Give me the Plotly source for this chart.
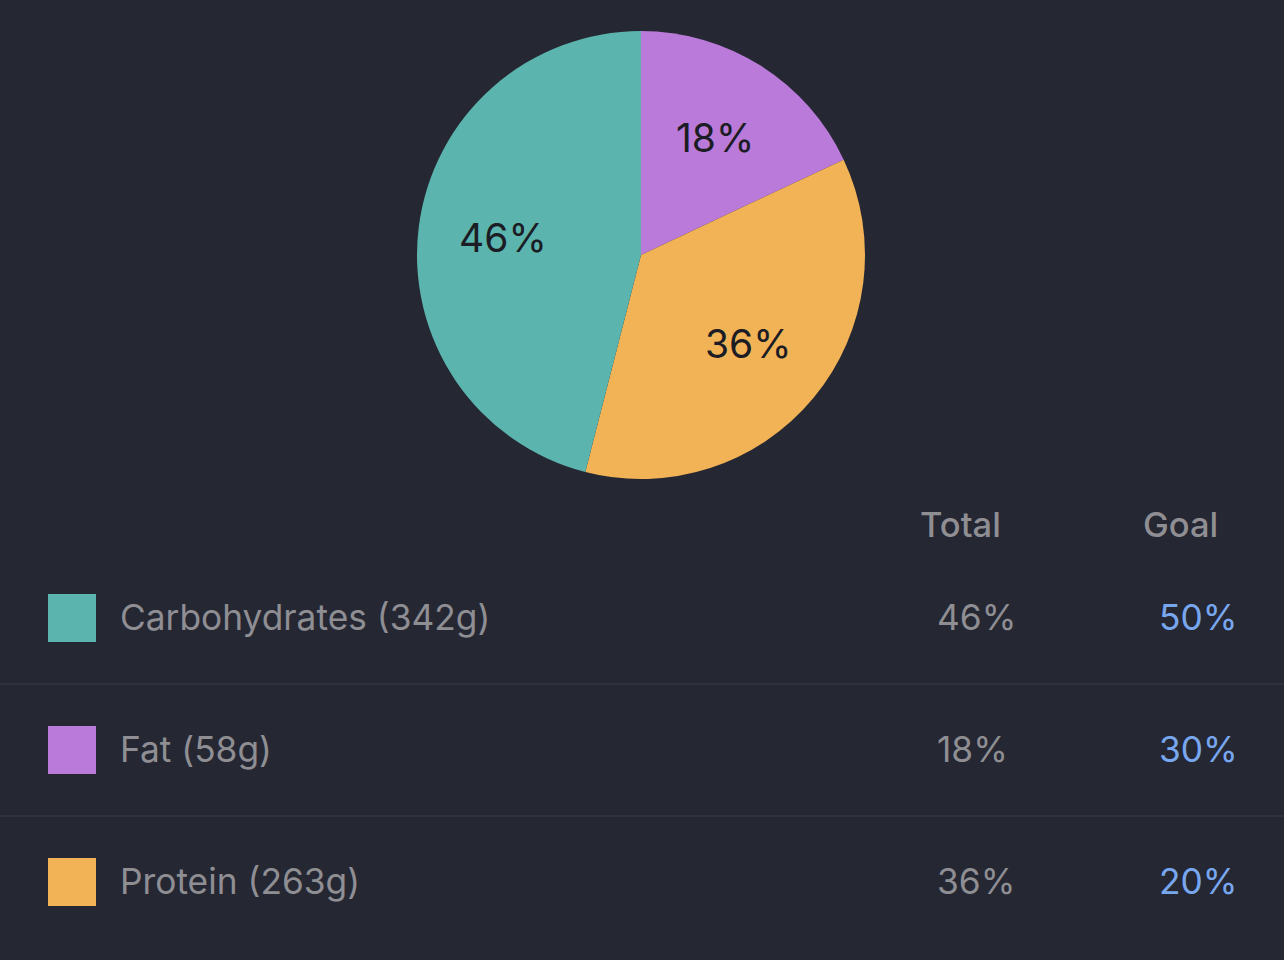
import math

import plotly.graph_objects as go

# macro nutrient data
nutrients = ["Carbohydrates", "Fat", "Protein"]
grams = [342, 58, 263]
total_pct = [46, 18, 36]
goal_pct = [50, 30, 20]
colors = ["#5bb5ae", "#b97ad9", "#f2b356"]
headers = ["Total", "Goal"]

bg = "#252733"
gray = "#8e8e93"
blue = "#79a7ef"
font = "Inter"

W, H = 1284, 960
# pie geometry (pixels)
pie_cx, pie_cy, pie_r = 641, 255, 224

# pie goes clockwise from 12 o'clock: Fat, Protein, Carbohydrates
pie_order = [1, 2, 0]

fig = go.Figure()

fig.add_trace(
    go.Pie(
        labels=[nutrients[i] for i in pie_order],
        values=[total_pct[i] for i in pie_order],
        textinfo="none",
        sort=False,
        direction="clockwise",
        rotation=0,
        marker=dict(colors=[colors[i] for i in pie_order], line=dict(width=0)),
        domain=dict(
            x=[(pie_cx - pie_r) / W, (pie_cx + pie_r) / W],
            y=[1 - (pie_cy + pie_r) / H, 1 - (pie_cy - pie_r) / H],
        ),
        showlegend=False,
        hoverinfo="label+percent",
    )
)

rows = list(range(len(nutrients)))

# colour swatches
fig.add_trace(
    go.Scatter(
        x=[72] * len(rows),
        y=rows,
        mode="markers",
        marker=dict(symbol="square", size=48, color=colors, line=dict(width=0)),
        showlegend=False,
        hoverinfo="skip",
    )
)

annotations = []

# slice labels at mid-angle, ~62% of the radius
total = sum(total_pct)
cum = 0
for i in pie_order:
    mid = (cum + total_pct[i] / 2) / total * 2 * math.pi
    cum += total_pct[i]
    rr = 0.62 * pie_r
    annotations.append(dict(
        x=(pie_cx + rr * math.sin(mid)) / W,
        y=1 - (pie_cy - rr * math.cos(mid)) / H,
        xref="paper", yref="paper", xanchor="center", yanchor="middle",
        text="%d%%" % total_pct[i], showarrow=False,
        font=dict(family=font, size=39, color="#1b1c24"),
    ))

for i in rows:
    annotations.append(dict(
        x=118, y=i, xref="x", yref="y", xanchor="left", yanchor="middle",
        text="%s (%dg)" % (nutrients[i], grams[i]), showarrow=False,
        font=dict(family=font, size=35.3, color=gray),
    ))
    annotations.append(dict(
        x=935, y=i, xref="x", yref="y", xanchor="left", yanchor="middle",
        text="%d%%" % total_pct[i], showarrow=False,
        font=dict(family=font, size=35.3, color=gray),
    ))
    annotations.append(dict(
        x=1157, y=i, xref="x", yref="y", xanchor="left", yanchor="middle",
        text="%d%%" % goal_pct[i], showarrow=False,
        font=dict(family=font, size=35.3, color=blue),
    ))

for name, xc in zip(headers, [960, 1180]):
    annotations.append(dict(
        x=xc, y=-0.712, xref="x", yref="y", xanchor="center", yanchor="middle",
        text=name, showarrow=False,
        font=dict(family=font, size=34.5, color=gray, weight=500),
    ))

# row separators
shapes = []
for i in rows[:-1]:
    shapes.append(dict(
        type="line", xref="paper", yref="y", x0=0, x1=1, y0=i + 0.5, y1=i + 0.5,
        line=dict(color="#3a3c47", width=1),
    ))

fig.update_layout(
    width=W,
    height=H,
    margin=dict(l=0, r=0, t=0, b=0),
    paper_bgcolor=bg,
    plot_bgcolor=bg,
    font=dict(family=font),
    annotations=annotations,
    shapes=shapes,
    xaxis=dict(range=[0, W], domain=[0, 1], visible=False, fixedrange=True),
    yaxis=dict(range=[2.5909, -0.9697], domain=[0, 0.4896], visible=False,
               fixedrange=True),
)

fig.write_html(
    "out.html",
    config={"displayModeBar": False},
    post_script="document.body.style.margin='0px';",
)
